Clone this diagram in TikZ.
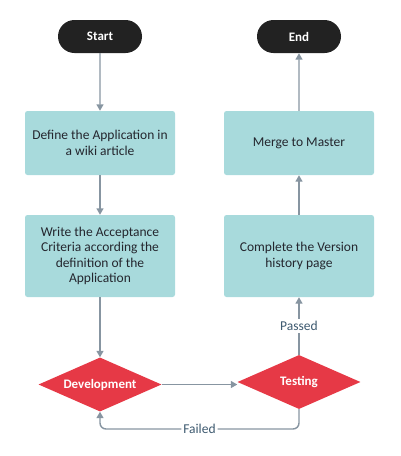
\documentclass[tikz,border=0pt]{standalone}
\usepackage{fontspec}
\setmainfont{Carlito}
\usetikzlibrary{shapes.geometric,shapes.misc,arrows.meta}
\definecolor{termfill}{HTML}{222222}
\definecolor{boxfill}{HTML}{A8DADC}
\definecolor{decfill}{HTML}{E63946}
\definecolor{arrowc}{HTML}{8795A1}
\definecolor{boxtext}{HTML}{24262E}
\definecolor{labtext}{HTML}{3E5A70}
\begin{document}
\begin{tikzpicture}[x=1pt,y=-1pt,
  terminal/.style={rounded rectangle, fill=termfill, text=white, font=\fontsize{13}{15}\selectfont\bfseries, minimum width=84pt, minimum height=33pt, inner sep=0pt},
  procbox/.style={rectangle, rounded corners=2.5pt, fill=boxfill, text=boxtext, font=\fontsize{13.5}{15.5}\selectfont, minimum width=150pt, align=center, inner sep=0pt},
  decision/.style={diamond, fill=decfill, text=white, font=\fontsize{13}{15}\selectfont\bfseries, minimum width=123pt, minimum height=54pt, inner sep=0pt, aspect=2.28},
  flow/.style={draw=arrowc, line width=1.4pt, -{Triangle[length=6.5pt,width=7pt]}},
  flowlabel/.style={fill=white, text=labtext, font=\fontsize{13.5}{15}\selectfont, inner sep=2pt}
]
\useasboundingbox (0,0) rectangle (400,456);
\node[terminal] (start) at (100,36.5) {Start};
\node[terminal] (end) at (299,36.5) {End};
\node[procbox, minimum height=64pt] (define) at (100,143) {Define the Application in\\a wiki article};
\node[procbox, minimum height=82pt] (write) at (100,256) {Write the Acceptance\\Criteria according the\\definition of the\\Application};
\node[procbox, minimum height=64pt] (merge) at (299,143) {Merge to Master};
\node[procbox, minimum height=82pt] (complete) at (299,256) {Complete the Version\\history page};
\node[decision] (dev) at (100,384.5) {Development};
\node[decision] (test) at (299,382) {Testing};
\coordinate (fr) at (299,429);
\coordinate (fl) at (100,429);
\draw[flow] (start) -- (define);
\draw[flow] (define) -- (write);
\draw[flow] (write) -- (dev);
\draw[flow] (dev.east) -- (test.west |- dev.east);
\draw[flow] (test) -- node[flowlabel] {Passed} (complete);
\draw[flow] (complete) -- (merge);
\draw[flow] (merge) -- (end);
\draw[flow, rounded corners=6pt] (test.south) -- (fr) -- node[flowlabel] {Failed} (fl) -- (dev.south);
\end{tikzpicture}
\end{document}
